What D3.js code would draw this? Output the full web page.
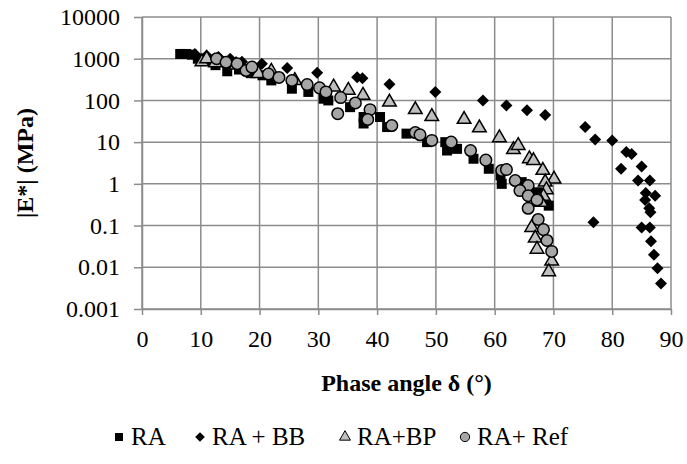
<!DOCTYPE html>
<meta charset="utf-8" />
<title>|E*| vs phase angle</title>
<body style="margin:0;background:#fff;font-family:'Liberation Serif',serif">
<script src="https://d3js.org/d3.v7.min.js"></script>
<script>
  // tick labels
  var xTicks = [0, 10, 20, 30, 40, 50, 60, 70, 80, 90];
  var yTicks = [0.001, 0.01, 0.1, 1, 10, 100, 1000, 10000];
  var yTickLabels = ["0.001", "0.01", "0.1", "1", "10", "100", "1000", "10000"];

  // series: phase angle (deg) and |E*| (MPa)
  var raX = [6.5, 7.5, 8.5, 9.5, 11, 12.5, 14.5, 16.5, 18.5, 20.5, 22, 25.5, 28.3, 30.9, 31.7, 35.4, 37.7, 37.7, 40.5, 41.7, 45, 48.5, 51.6, 51.9, 53.6, 56.4, 59, 61, 61.2, 64.6, 67.2, 69.2];
  var raY = [1300, 1300, 1250, 1000, 900, 700, 500, 550, 450, 400, 302, 191, 160, 110, 100, 69, 40, 28, 40, 23, 16, 10, 10, 6.3, 6.9, 4, 2.3, 1.6, 1.0, 1.1, 0.63, 0.3];

  var bbX = [9, 11, 13, 15, 17, 20.4, 24.7, 29.8, 36.6, 37.5, 42.1, 49.9, 58, 62, 65.5, 68.6, 75.4, 77.1, 76.8, 80, 81.5, 82.4, 83.3, 84.4, 85, 85.7, 85.6, 86.3, 86.5, 87.3, 86.4, 85, 86.4, 86.6, 87.1, 87.7, 88.3];
  var bbY = [1300, 1200, 1100, 1000, 850, 760, 600, 460, 360, 340, 245, 160, 100, 76, 58, 45, 23, 11.5, 0.12, 11, 2.3, 5.8, 5.2, 1.2, 2.6, 0.6, 0.41, 0.26, 0.21, 0.52, 1.2, 0.09, 0.09, 0.042, 0.02, 0.0095, 0.0041];

  var bpX = [10.2, 11, 12.5, 16, 19.8, 22, 26, 32.6, 35.1, 37.6, 42.1, 46.5, 49.3, 54.8, 57.4, 60.8, 63.2, 64, 65.9, 66.6, 68.2, 70.1, 68.6, 68.8, 68.3, 67.9, 66.3, 66.9, 67.2, 69.7, 69.2];
  var bpY = [840, 1000, 800, 700, 440, 500, 300, 210, 175, 133, 91, 60, 41, 35, 22, 12.7, 6.6, 8.3, 4, 3.6, 2.1, 1.3, 1.1, 0.72, 0.5, 0.36, 0.09, 0.05, 0.027, 0.014, 0.0078];

  var refX = [12.7, 14.3, 16.2, 17.7, 18.7, 21.5, 23.3, 25.5, 28.1, 30.2, 31.3, 33.8, 33.3, 36.3, 38.8, 38.4, 42.5, 46.5, 47.3, 49.3, 52.6, 55.9, 58.5, 61.2, 62, 63.5, 65.7, 64.3, 65.7, 67.2, 65.7, 67.4, 68.3, 68.9, 69.7];
  var refY = [1000, 820, 760, 520, 630, 430, 355, 300, 240, 200, 160, 117, 48, 87, 60, 35, 25, 17, 15, 11, 10, 6.3, 3.7, 2.1, 2.2, 1.2, 0.91, 0.69, 0.52, 0.41, 0.26, 0.14, 0.08, 0.044, 0.024];

  var seriesNames = ["RA", "RA + BB", "RA+BP", "RA+ Ref"];

  var width = 687, height = 464;
  var margin = { top: 17, right: 16, bottom: 155, left: 142 };
  var plotW = width - margin.left - margin.right,
    plotH = height - margin.top - margin.bottom;
  var font = "Liberation Serif";
  var gridColor = "#8c8c8c";

  var svg = d3.select("body").append("svg")
    .attr("width", width)
    .attr("height", height)
    .attr("font-family", font);

  var g = svg.append("g")
    .attr("transform", "translate(" + margin.left + "," + margin.top + ")");

  var x = d3.scaleLinear().domain([0, 90]).range([0, plotW]);
  var y = d3.scaleLog().domain([0.001, 10000]).range([plotH, 0]);

  // gridlines
  g.append("g")
    .selectAll("line")
    .data(yTicks)
    .enter().append("line")
    .attr("x1", 0).attr("x2", plotW)
    .attr("y1", function(d) { return y(d); })
    .attr("y2", function(d) { return y(d); })
    .attr("stroke", gridColor).attr("stroke-width", 1.5);

  g.append("g")
    .selectAll("line")
    .data(xTicks)
    .enter().append("line")
    .attr("y1", 0).attr("y2", plotH)
    .attr("x1", function(d) { return x(d); })
    .attr("x2", function(d) { return x(d); })
    .attr("stroke", gridColor).attr("stroke-width", 1.5);

  function styleAxis(a) {
    a.attr("font-family", null).attr("font-size", null);
    a.selectAll("path, line").attr("stroke", gridColor).attr("stroke-width", 1.5);
    a.selectAll("text")
      .attr("fill", "#000")
      .style("font-family", font)
      .style("font-size", "24px");
  }

  // axes
  g.append("g")
    .attr("transform", "translate(0," + plotH + ")")
    .call(d3.axisBottom(x).tickValues(xTicks).tickSize(6).tickSizeOuter(0).tickPadding(15).tickFormat(d3.format("d")))
    .call(styleAxis);

  g.append("g")
    .call(d3.axisLeft(y).tickValues(yTicks).tickSize(8).tickSizeOuter(0).tickPadding(14)
      .tickFormat(function(d, i) { return yTickLabels[i]; }))
    .call(styleAxis);

  // axis titles
  svg.append("text")
    .attr("x", margin.left + plotW / 2)
    .attr("y", 391)
    .attr("text-anchor", "middle")
    .style("font-family", font).style("font-size", "24px").style("font-weight", "bold")
    .text("Phase angle δ (°)");

  svg.append("text")
    .attr("transform", "translate(33," + (margin.top + plotH / 2) + ") rotate(-90)")
    .attr("text-anchor", "middle")
    .style("font-family", font).style("font-size", "24px").style("font-weight", "bold")
    .text("|E*| (MPa)");

  function pts(xs, ys) {
    return xs.map(function(v, i) { return [v, ys[i]]; });
  }

  // square rotated 45 degrees
  var squareDiamond = {
    draw: function(context, size) {
      var r = Math.sqrt(size / 2);
      context.moveTo(0, -r);
      context.lineTo(r, 0);
      context.lineTo(0, r);
      context.lineTo(-r, 0);
      context.closePath();
    }
  };

  var styles = [
    { type: d3.symbolSquare, size: 100, fill: "#000", stroke: "#000", sw: 0 },
    { type: squareDiamond, size: 72, fill: "#000", stroke: "#000", sw: 0 },
    { type: d3.symbolTriangle, size: 80, fill: "#bfbfbf", stroke: "#000", sw: 1.5 },
    { type: d3.symbolCircle, size: 105, fill: "#a6a6a6", stroke: "#000", sw: 1.5 }
  ];

  var data = [pts(raX, raY), pts(bbX, bbY), pts(bpX, bpY), pts(refX, refY)];

  data.forEach(function(series, k) {
    var s = styles[k];
    g.append("g")
      .selectAll("path")
      .data(series)
      .enter().append("path")
      .attr("transform", function(d) { return "translate(" + x(d[0]) + "," + y(d[1]) + ")"; })
      .attr("d", d3.symbol().type(s.type).size(s.size))
      .attr("fill", s.fill)
      .attr("stroke", s.stroke)
      .attr("stroke-width", s.sw);
  });

  // legend
  var legendX = [119, 200, 345, 465];
  var legend = svg.append("g");
  seriesNames.forEach(function(name, k) {
    var s = styles[k];
    legend.append("path")
      .attr("transform", "translate(" + legendX[k] + ",437)")
      .attr("d", d3.symbol().type(s.type).size(s.size * 0.65))
      .attr("fill", s.fill)
      .attr("stroke", s.stroke)
      .attr("stroke-width", s.sw ? 1 : 0);
    legend.append("text")
      .attr("x", legendX[k] + 12)
      .attr("y", 445)
      .style("font-family", font).style("font-size", "25px")
      .text(name);
  });
</script>
</body>
